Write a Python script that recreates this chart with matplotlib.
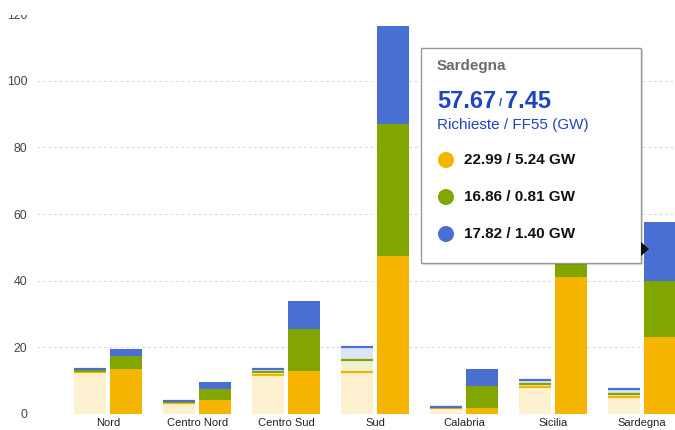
import matplotlib
matplotlib.use("Agg")
import matplotlib.pyplot as plt
from matplotlib.patches import Rectangle, Circle, Polygon
import numpy as np

plt.rcParams['font.family'] = ['Liberation Sans', 'DejaVu Sans']

regions = ["Nord", "Centro Nord", "Centro Sud", "Sud", "Calabria", "Sicilia", "Sardegna"]
# FF55 values (GW): yellow, green, blue
ff55_yellow = [12.5, 3.4, 11.7, 12.6, 1.9, 8.0, 5.24]
ff55_green = [0.4, 0.2, 0.8, 3.6, 0.3, 0.9, 0.81]
ff55_blue = [0.6, 0.4, 1.0, 3.9, 0.05, 1.4, 1.40]
# Richieste values (GW)
req_yellow = [13.5, 4.2, 12.8, 47.4, 1.9, 41.0, 22.99]
req_green = [4.0, 3.2, 12.6, 39.7, 6.6, 16.0, 16.86]
req_blue = [2.1, 2.3, 8.5, 29.4, 4.9, 12.0, 17.82]
y_ticks = [0, 20, 40, 60, 80, 100, 120]

# tooltip content
tip_title = "Sardegna"
tip_req_total = "57.67"
tip_ff_total = "7.45"
tip_sub = "Richieste / FF55 (GW)"
tip_items = ["22.99 / 5.24 GW", "16.86 / 0.81 GW", "17.82 / 1.40 GW"]

full = ["#F4B400", "#82A600", "#4A6FD3"]
pale = ["#FDF1CF", "#EDF2D2", "#DDE4F6"]

W, H = 675, 430
fig = plt.figure(figsize=(W / 100, H / 100), dpi=100)
ax = fig.add_axes([37 / W, 16 / H, 1 - 37 / W, 1 - 16 / H])

x = np.arange(len(regions))
bw = 0.36
off = 0.2

ff = [ff55_yellow, ff55_green, ff55_blue]
rq = [req_yellow, req_green, req_blue]

bottom = np.zeros(len(regions))
for vals, pc, fc in zip(ff, pale, full):
    v = np.array(vals)
    ax.bar(x - off, v, bw, bottom=bottom, color=pc, zorder=2, linewidth=0)
    tops = bottom + v
    ax.hlines(tops, x - off - bw / 2, x - off + bw / 2, colors=fc, lw=1.6, zorder=3)
    bottom = tops

bottom = np.zeros(len(regions))
for vals, fc in zip(rq, full):
    v = np.array(vals)
    ax.bar(x + off, v, bw, bottom=bottom, color=fc, zorder=2, linewidth=0)
    bottom = bottom + v

ax.set_xlim(-0.8, (W - 37) / 89 - 0.8)
ax.set_ylim(0, 124.2)
ax.set_yticks(y_ticks)
ax.set_yticklabels([str(t) for t in y_ticks], fontsize=8.8, color="#444444")
ax.set_xticks(x)
ax.set_xticklabels(regions, fontsize=8, color="#222222")
ax.tick_params(axis="both", length=0)
ax.tick_params(axis="y", pad=7)
ax.tick_params(axis="x", pad=3)
for s in ax.spines.values():
    s.set_visible(False)
ax.grid(axis="y", linestyle=(0, (2, 3)), color="#D4D4D4", lw=0.8, zorder=0)
ax.set_axisbelow(True)

# overlay in pixel coordinates
ov = fig.add_axes([0, 0, 1, 1], zorder=10)
ov.set_xlim(0, W)
ov.set_ylim(H, 0)
ov.axis("off")
ov.patch.set_alpha(0)

# top edge of the (cropped) chart
ov.add_patch(Rectangle((0, 0), W, 15, facecolor="white", lw=0))

# tooltip
ov.add_patch(Rectangle((423, 50), 220, 215, facecolor="#000000", alpha=0.12, lw=0))
ov.add_patch(Rectangle((421, 48), 220, 215, facecolor="white", edgecolor="#9A9A9A", lw=1.0))
ov.add_patch(Polygon([[641, 242], [649, 249], [641, 256]], closed=True, facecolor="#111111", lw=0))

ov.text(437, 66, tip_title, fontsize=11, fontweight="bold", color="#6B6B6B", va="center", ha="left")
ov.text(437, 101, tip_req_total, fontsize=17, fontweight="bold", color="#1E44C0", va="center", ha="left")
ov.text(500.5, 103, "/", fontsize=8, fontweight="bold", color="#1E44C0", va="center", ha="center")
ov.text(505, 101, tip_ff_total, fontsize=17, fontweight="bold", color="#1E44C0", va="center", ha="left")
ov.text(437, 125, tip_sub, fontsize=11, color="#1E44C0", va="center", ha="left")
for i, (lab, c) in enumerate(zip(tip_items, full)):
    yy = 160 + i * 37
    ov.add_patch(Circle((446, yy), 8, facecolor=c, lw=0))
    ov.text(464, yy, lab, fontsize=11, fontweight="bold", color="#111111", va="center", ha="left")

fig.savefig("out.png", dpi=100)
